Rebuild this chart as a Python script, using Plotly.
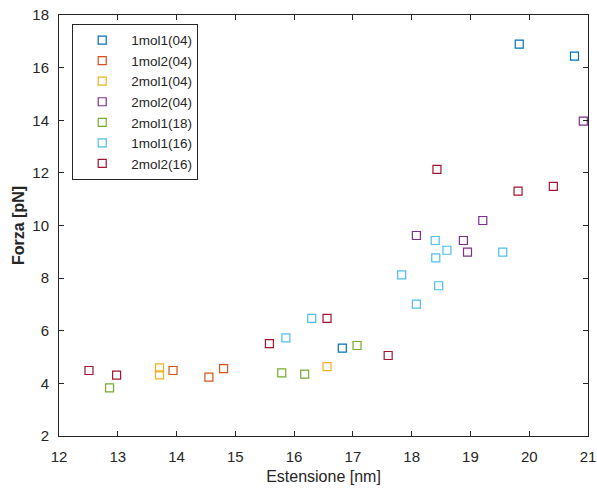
import plotly.graph_objects as go

series_names = ["1mol1(04)", "1mol2(04)", "2mol1(04)", "2mol2(04)", "2mol1(18)", "1mol1(16)", "2mol2(16)"]
series_colors = ["#0072BD", "#D95319", "#EDB120", "#7E2F8E", "#77AC30", "#4DBEEE", "#A2142F"]

x_1mol1_04 = [19.83, 20.77, 16.82]
y_1mol1_04 = [16.89, 16.44, 5.34]
x_1mol2_04 = [13.94, 14.55, 14.80]
y_1mol2_04 = [4.49, 4.24, 4.56]
x_2mol1_04 = [13.71, 13.71, 16.56]
y_2mol1_04 = [4.59, 4.32, 4.64]
x_2mol2_04 = [20.92, 19.21, 18.08, 18.88, 18.95]
y_2mol2_04 = [13.97, 10.19, 9.62, 9.43, 8.99]
x_2mol1_18 = [12.86, 15.79, 16.18, 17.07]
y_2mol1_18 = [3.83, 4.40, 4.35, 5.44]
x_1mol1_16 = [18.40, 18.60, 19.55, 18.41, 17.83, 18.46, 18.08, 16.30, 15.86]
y_1mol1_16 = [9.43, 9.06, 8.99, 8.77, 8.12, 7.71, 7.01, 6.47, 5.73]
x_2mol2_16 = [12.51, 12.98, 15.58, 16.56, 17.60, 18.43, 19.81, 20.41]
y_2mol2_16 = [4.49, 4.31, 5.51, 6.47, 5.06, 12.13, 11.31, 11.49]

xs = [x_1mol1_04, x_1mol2_04, x_2mol1_04, x_2mol2_04, x_2mol1_18, x_1mol1_16, x_2mol2_16]
ys = [y_1mol1_04, y_1mol2_04, y_2mol1_04, y_2mol2_04, y_2mol1_18, y_1mol1_16, y_2mol2_16]

x_ticks = list(range(12, 22))
y_ticks = list(range(2, 19, 2))

FONT = "Liberation Sans, Arial, sans-serif"

fig = go.Figure()
for name, color, x, y in zip(series_names, series_colors, xs, ys):
    fig.add_trace(go.Scatter(
        x=x, y=y, mode="markers", name=name,
        marker=dict(symbol="square-open", size=8, color=color, line=dict(width=1.2, color=color)),
    ))

axis_common = dict(
    showgrid=False, zeroline=False, showline=True, linecolor="#262626", linewidth=1,
    mirror="ticks", ticks="inside", ticklen=5, tickcolor="#262626", tickwidth=1,
    tickfont=dict(family=FONT, size=15, color="#262626"),
    ticklabeloverflow="allow", automargin=False,
)

fig.update_layout(
    width=597, height=488,
    margin=dict(l=59, r=9, t=15, b=52),
    paper_bgcolor="white", plot_bgcolor="white",
    xaxis=dict(range=[12, 21], tickvals=x_ticks, ticklabelstandoff=7,
               title=dict(text="Estensione [nm]", standoff=6,
                          font=dict(family=FONT, size=16, color="#262626")),
               **axis_common),
    yaxis=dict(range=[2, 18], tickvals=y_ticks, ticklabelstandoff=6,
               title=dict(text="<b>Forza [pN]</b>", standoff=3,
                          font=dict(family=FONT, size=16, color="#262626")),
               **axis_common),
    legend=dict(x=0.025, y=0.979, xanchor="left", yanchor="top",
                bordercolor="#262626", borderwidth=1, bgcolor="white",
                font=dict(family=FONT, size=13.5, color="#262626"),
                tracegroupgap=0, itemwidth=48),
    showlegend=True,
)

fig.write_html("out.html")
